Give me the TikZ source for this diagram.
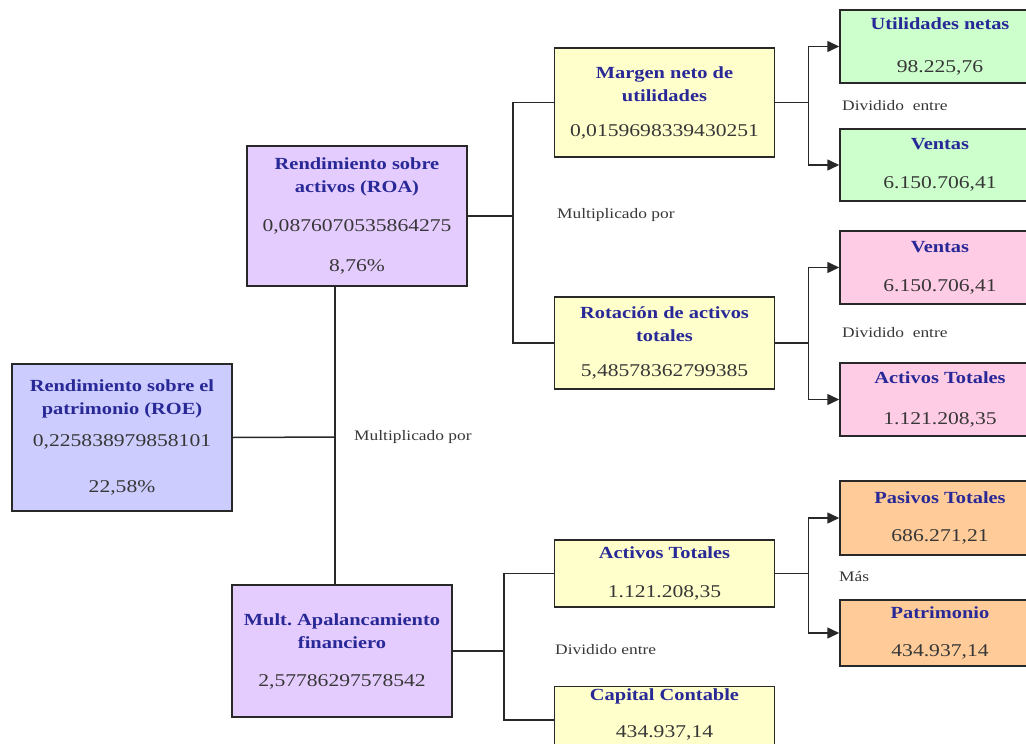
\documentclass[tikz,border=0pt]{standalone}
\usepackage{fontspec}
\setmainfont{Liberation Serif}[FakeStretch=1.2]
\usepackage{xcolor}
\usetikzlibrary{arrows.meta,positioning}
\definecolor{linec}{RGB}{40,40,40}
\definecolor{titc}{RGB}{40,40,150}
\definecolor{valc}{RGB}{55,55,55}
\definecolor{roefill}{RGB}{204,204,255}
\definecolor{roafill}{RGB}{229,204,255}
\definecolor{yelfill}{RGB}{255,255,204}
\definecolor{grnfill}{RGB}{204,255,204}
\definecolor{pnkfill}{RGB}{255,204,230}
\definecolor{orgfill}{RGB}{255,204,153}
\frenchspacing
\newcommand{\titfont}{\fontsize{17bp}{23bp}\selectfont\bfseries}
\newcommand{\valfont}{\fontsize{18bp}{23bp}\selectfont\mdseries}
\newcommand{\lblfont}{\fontsize{14.5bp}{18bp}\selectfont}
\newcommand{\val}[1]{{\valfont\color{valc}#1}}
\tikzset{
  box/.style={draw=linec, line width=1.5bp, minimum width=220bp, align=center,
    inner sep=2bp, font=\titfont, text=titc},
  hoja/.style={box, minimum width=200bp},
  lbl/.style={anchor=west, inner sep=1bp, font=\lblfont, text=valc},
  conn/.style={draw=linec, line width=1.5bp}
}

\begin{document}
\begin{tikzpicture}[x=1bp, y=-1bp, >={Triangle[length=12bp,width=11bp]}]
        \useasboundingbox (0,0) rectangle (1026,744);
        \clip (0,0) rectangle (1026,744);

        % ROE, ROA y multiplicador
        \node[box, fill=roefill, minimum height=147bp] (roe) at (122,437.5)
            {Rendimiento sobre el\\patrimonio (ROE)\\[9bp]\val{0,225838979858101}\\[23bp]\val{22,58\%}};
        \node[box, fill=roafill, minimum height=140bp] (roa) at (357,216)
            {Rendimiento sobre\\activos (ROA)\\[16bp]\val{0,0876070535864275}\\[17bp]\val{8,76\%}};
        \node[box, fill=roafill, minimum height=132bp] (mult) at (342,651)
            {Mult. Apalancamiento\\financiero\\[15bp]\val{2,57786297578542}};

        % Segundo nivel
        \node[box, fill=yelfill, minimum height=109bp] (marg) at (664.5,102.5)
            {Margen neto de\\utilidades\\[12bp]\val{0,0159698339430251}};
        \node[box, fill=yelfill, minimum height=92bp] (rot) at (664.5,343)
            {Rotación de activos\\totales\\[12bp]\val{5,48578362799385}};
        \node[box, fill=yelfill, minimum height=67bp] (act) at (664.5,573.5)
            {Activos Totales\\[16bp]\val{1.121.208,35}};
        \node[box, fill=yelfill, minimum height=66bp, text depth=14bp] (cap) at (664.5,720)
            {Capital Contable\\[14bp]\val{434.937,14}};

        % Tercer nivel
        \node[hoja, fill=grnfill, minimum height=73bp] (util) at (940,46.5)
            {Utilidades netas\\[20bp]\val{98.225,76}};
        \node[hoja, fill=grnfill, minimum height=72bp] (ventasg) at (940,165)
            {Ventas\\[16bp]\val{6.150.706,41}};
        \node[hoja, fill=pnkfill, minimum height=73bp] (ventasp) at (940,267.5)
            {Ventas\\[16bp]\val{6.150.706,41}};
        \node[hoja, fill=pnkfill, minimum height=73bp] (actp) at (940,399.5)
            {Activos Totales\\[18bp]\val{1.121.208,35}};
        \node[hoja, fill=orgfill, minimum height=74bp] (pas) at (940,518)
            {Pasivos Totales\\[15bp]\val{686.271,21}};
        \node[hoja, fill=orgfill, minimum height=66bp] (pat) at (940,633)
            {Patrimonio\\[15bp]\val{434.937,14}};

        % Operaciones
        \node[lbl] (mul1) at (353,437) {Multiplicado por};
        \node[lbl] (mul2) at (556,215) {Multiplicado por};
        \node[lbl] (div1) at (841,106) {Dividido\ \ entre};
        \node[lbl] (div2) at (841,333) {Dividido\ \ entre};
        \node[lbl] (mas) at (838,577) {Más};
        \node[lbl] (div3) at (554,650) {Dividido entre};

        % Conectores
        \coordinate (j1) at (335,437);
        \draw[conn] (roe.east) -- (j1);
        \draw[conn] (roa.south -| j1) -- (mult.north -| j1);
        \draw[conn] (roa.east) -- ++(45,0) coordinate (j2);
        \draw[conn] (marg.west) -| (j2) |- (rot.west);
        \draw[conn] (mult.east) -- ++(51,0) coordinate (j5);
        \draw[conn] (act.west) -| (j5) |- (cap.west);

        \draw[conn] (marg.east) -- ++(33,0) coordinate (j3);
        \draw[conn, ->] (j3) |- (util.west);
        \draw[conn, ->] (j3) |- (ventasg.west);
        \draw[conn] (rot.east) -- ++(33,0) coordinate (j4);
        \draw[conn, ->] (j4) |- (ventasp.west);
        \draw[conn, ->] (j4) |- (actp.west);
        \draw[conn] (act.east) -- ++(33,0) coordinate (j6);
        \draw[conn, ->] (j6) |- (pas.west);
        \draw[conn, ->] (j6) |- (pat.west);
\end{tikzpicture}
\end{document}
